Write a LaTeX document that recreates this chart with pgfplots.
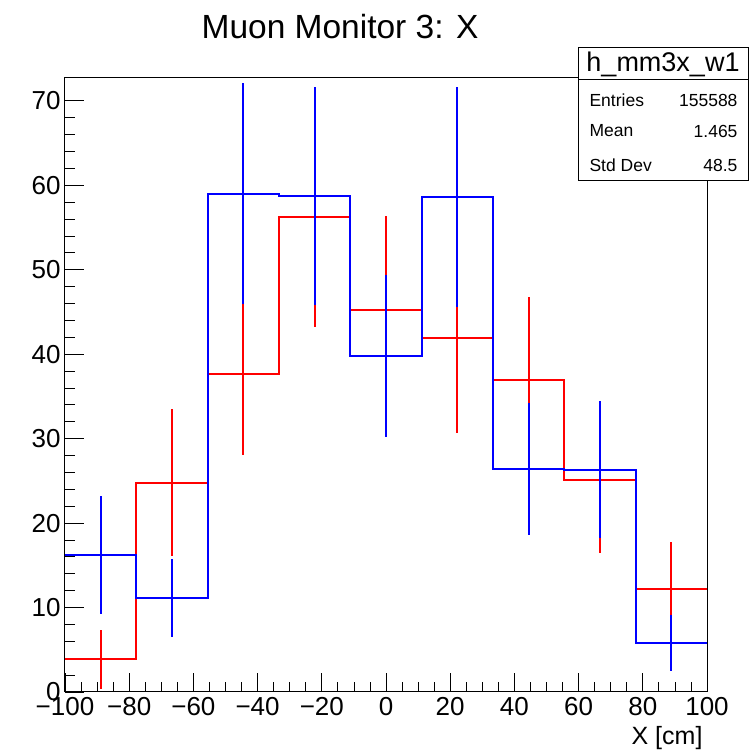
\documentclass[border=0pt]{standalone}
\usepackage{pgfplots}
\pgfplotsset{compat=1.18}
\usepackage{fontspec}
\setmainfont{Liberation Sans}
\pgfplotstableread{
x y
-100 3.9
-77.78 24.8
-55.56 37.7
-33.33 56.3
-11.11 45.2
11.11 41.9
33.33 36.9
55.56 25.1
77.78 12.2
100 12.2
}\redhist
\pgfplotstableread{
x y e
-88.89 3.9 3.5
-66.67 24.8 8.7
-44.44 37.7 9.6
-22.22 56.3 13.1
0 45.2 11.2
22.22 41.9 11.25
44.44 36.9 9.9
66.67 25.1 8.6
88.89 12.2 5.6
}\rederr
\pgfplotstableread{
x y
-100 16.2
-77.78 11.1
-55.56 59.0
-33.33 58.7
-11.11 39.75
11.11 58.6
33.33 26.4
55.56 26.3
77.78 5.8
100 5.8
}\bluehist
\pgfplotstableread{
x y e
-88.89 16.2 7.0
-66.67 11.1 4.6
-44.44 59.0 13.1
-22.22 58.7 12.9
0 39.75 9.6
22.22 58.6 13.0
44.44 26.4 7.8
66.67 26.3 8.1
88.89 5.8 3.3
}\blueerr
\begin{document}
\begin{tikzpicture}[x=1pt,y=1pt]
\path[use as bounding box] (0,0) rectangle (750,752);
\begin{axis}[
  at={(65pt,60pt)}, anchor=south west,
  scale only axis, width=642pt, height=614pt,
  xmin=-100, xmax=100, ymin=0, ymax=72.7,
  xtick={-100,-80,...,100},
  xticklabels={−100,−80,−60,−40,−20,0,20,40,60,80,100},
  ytick={0,10,...,70},
  yticklabels={0,10,20,30,40,50,60,70},
  minor x tick num=3, minor y tick num=4,
  xtick pos=bottom, ytick pos=left,
  tick align=inside,
  major tick length=19pt, minor tick length=10pt,
  every tick/.style={black, line width=0.8pt},
  axis line style={black, line width=1pt},
  ticklabel style={font=\fontsize{26}{26}\selectfont},
  xticklabel style={yshift=-2pt},
  yticklabel style={xshift=-1pt},
  clip=false,
]
\addplot[red, line width=2pt, const plot mark left] table[x=x,y=y] {\redhist};
\addplot[draw=none, mark=none, error bars/.cd, y dir=both, y explicit, error mark=none,
  error bar style={draw=red, line width=2pt}] table[x=x,y=y,y error=e] {\rederr};
\addplot[blue, line width=2pt, const plot mark left] table[x=x,y=y] {\bluehist};
\addplot[draw=none, mark=none, error bars/.cd, y dir=both, y explicit, error mark=none,
  error bar style={draw=blue, line width=2pt}] table[x=x,y=y,y error=e] {\blueerr};
\end{axis}
\node[font=\fontsize{33.5}{33.5}\selectfont] at (340,725) {Muon Monitor 3: X};
\node[font=\fontsize{25}{25}\selectfont, anchor=base east] at (706,8) {X [cm]};
\draw[black, line width=1pt, fill=white] (578,571) rectangle (748,704);
\draw[black, line width=1pt] (578,672) -- (748,672);
\node[font=\fontsize{27}{27}\selectfont] at (663,688) {h\_mm3x\_w1};
\node[font=\fontsize{17.5}{17.5}\selectfont, anchor=west] at (586,652) {Entries};
\node[font=\fontsize{17.5}{17.5}\selectfont, anchor=east] at (741,652) {155588};
\node[font=\fontsize{17.5}{17.5}\selectfont, anchor=west] at (586,621) {Mean};
\node[font=\fontsize{17.5}{17.5}\selectfont, anchor=east] at (741,621) {1.465};
\node[font=\fontsize{17.5}{17.5}\selectfont, anchor=west] at (586,587) {Std Dev};
\node[font=\fontsize{17.5}{17.5}\selectfont, anchor=east] at (741,587) {48.5};
\end{tikzpicture}
\end{document}
